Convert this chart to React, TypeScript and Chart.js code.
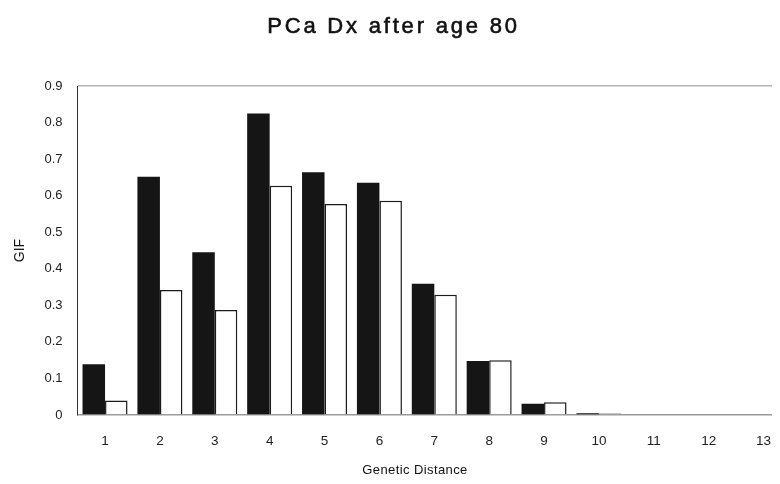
import React, { useEffect, useRef } from "react";
import { Chart, registerables } from "chart.js";

Chart.register(...registerables);

// Genetic distance categories
const categories = ["1", "2", "3", "4", "5", "6", "7", "8", "9", "10", "11", "12", "13"];

// GIF per genetic distance, two groups
const filledSeries = [0.139, 0.652, 0.445, 0.825, 0.664, 0.635, 0.359, 0.148, 0.031, 0.005, 0, 0, 0];
const openSeries = [0.04, 0.342, 0.287, 0.627, 0.577, 0.586, 0.329, 0.15, 0.035, 0.004, 0, 0, 0];

const yTicks = [0, 0.1, 0.2, 0.3, 0.4, 0.5, 0.6, 0.7, 0.8, 0.9];

const chartTitle = "PCa Dx after age 80";
const xTitle = "Genetic Distance";
const yTitle = "GIF";

const FONT = "'Liberation Sans', Arial, Helvetica, sans-serif";

// Draws the spaced main title and the x-axis caption
const captionPlugin = {
  id: "captions",
  afterDraw(chart: any) {
    const { ctx, chartArea } = chart;
    ctx.save();
    ctx.fillStyle = "#111";
    ctx.strokeStyle = "#111";
    ctx.textAlign = "center";
    ctx.textBaseline = "alphabetic";
    ctx.font = `normal 22px ${FONT}`;
    (ctx as any).letterSpacing = "2.8px";
    const tx = chart.width / 2 - 6;
    ctx.fillText(chartTitle, tx, 25);
    ctx.lineWidth = 0.6;
    ctx.strokeText(chartTitle, tx, 25);
    ctx.font = `normal 13px ${FONT}`;
    (ctx as any).letterSpacing = "0.4px";
    const cx = chartArea.left + (chartArea.right - chartArea.left) * 0.473;
    ctx.fillText(xTitle, cx, 466);
    (ctx as any).letterSpacing = "0px";
    ctx.restore();
  },
};

export default function App() {
  const ref = useRef<HTMLCanvasElement>(null);

  useEffect(() => {
    if (!ref.current) return;
    const chart = new Chart(ref.current, {
      type: "bar",
      data: {
        labels: categories,
        datasets: [
          {
            label: "filled",
            data: filledSeries,
            backgroundColor: "#151515",
            borderWidth: 0,
            barPercentage: 1,
            categoryPercentage: 0.82,
          },
          {
            label: "open",
            data: openSeries,
            backgroundColor: "#ffffff",
            borderColor: "#1c1c1c",
            borderWidth: 1.5,
            borderSkipped: "start",
            barPercentage: 1,
            categoryPercentage: 0.82,
          },
        ],
      },
      options: {
        responsive: false,
        animation: false,
        layout: { padding: { top: 78, left: 0, right: 0, bottom: 0 } },
        plugins: {
          legend: { display: false },
          title: { display: false },
          tooltip: { enabled: false },
        },
        scales: {
          x: {
            grid: { display: false, drawTicks: false },
            border: { display: true, color: "#999", width: 1.5 },
            ticks: {
              color: "#222",
              font: { family: FONT, size: 13.5 },
              padding: 18,
              maxRotation: 0,
            },
            afterFit(scale: any) {
              scale.height = 61;
            },
          },
          y: {
            min: 0,
            max: 0.9,
            afterBuildTicks(scale: any) {
              scale.ticks = yTicks.map((v) => ({ value: v }));
            },
            grid: {
              drawTicks: false,
              color: (c: any) => (c.tick && c.tick.value > 0.85 ? "#b4b4b4" : "rgba(0,0,0,0)"),
              lineWidth: 1.5,
            },
            border: { display: true, color: "#333", width: 1 },
            ticks: {
              color: "#222",
              font: { family: FONT, size: 13 },
              padding: 15,
              callback: (v: any) => (Number(v) === 0 ? "0" : Number(v).toFixed(1)),
            },
            title: {
              display: true,
              text: yTitle,
              color: "#111",
              font: { family: FONT, size: 14 },
              padding: { top: 4, bottom: 0 },
            },
            afterFit(scale: any) {
              scale.width = 69.6;
            },
          },
        },
      },
      plugins: [captionPlugin],
    });
    return () => chart.destroy();
  }, []);

  return (
    <div style={{ width: 772, height: 468, overflow: "hidden", background: "#fff" }}>
      <canvas ref={ref} width={783} height={468} style={{ display: "block" }} />
    </div>
  );
}
